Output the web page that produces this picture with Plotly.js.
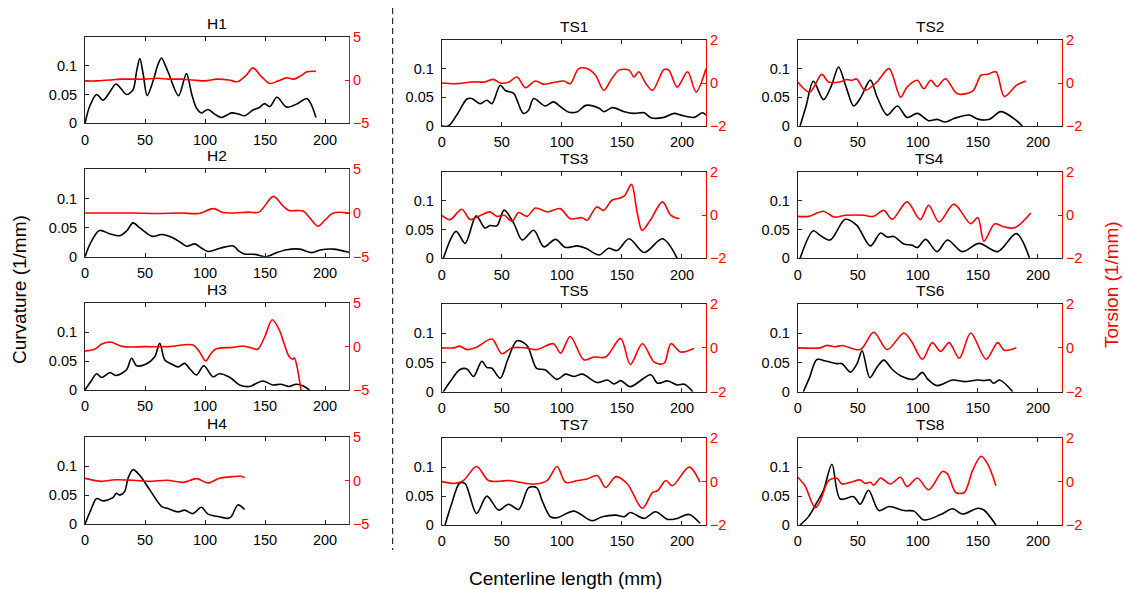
<!DOCTYPE html>
<html>
<head>
<meta charset="utf-8">
<script src="https://cdn.plot.ly/plotly-3.0.1.min.js"></script>
<style>html,body{margin:0;padding:0;background:#fff;}#chart{width:1124px;height:589px;}</style>
</head>
<body>
<div id="chart"></div>
<script>
// ---------- DATA ----------
const panelNames = ["H1","H2","H3","H4","TS1","TS2","TS3","TS4","TS5","TS6","TS7","TS8"];
const xTicks = [0, 50, 100, 150, 200];
const curvTicks = [0, 0.05, 0.1];
const curvTickText = ["0", "0.05", "0.1"];
const torsTicksH = [-5, 0, 5];
const torsTicksTS = [-2, 0, 2];

const h1_kx = [0,4,9.7,15,20,25.8,30,34.6,40,43,45.7,48.5,51.8,57,60.5,63.7,67,70,78,84.5,89,93,97,102.5,108,113.6,118,122,128,133,140,145,149.6,154,160,168,177,184.8,188,192.5];
const h1_k  = [0,0.03,0.05,0.040,0.052,0.068,0.060,0.050,0.058,0.09,0.112,0.085,0.048,0.075,0.1,0.113,0.1,0.085,0.048,0.086,0.05,0.026,0.018,0.024,0.016,0.010,0.014,0.018,0.016,0.013,0.023,0.027,0.034,0.029,0.045,0.028,0.034,0.043,0.035,0.010];
const h1_tx = [0,10,20,30,40,50,60,70,80,90,100,110,120,127,134,140,147,154,161,168,174,180,185,192.5];
const h1_t  = [-0.1,-0.1,0,0.1,0.1,0.1,0.2,0.1,0.1,0,-0.1,0.1,0,-0.2,0.5,1.4,0.4,-0.4,-0.1,0.25,0.1,0.5,0.95,1.0];

const h2_kx = [0,5,12,21,29,35,40,46,56,64,73.6,80,85,91.5,97,102.8,112.5,123.6,128,133,141.6,151,159.7,168,179,189,196,207,220];
const h2_k  = [0,0.025,0.045,0.039,0.036,0.045,0.058,0.049,0.035,0.038,0.032,0.024,0.018,0.022,0.015,0.009,0.0145,0.0185,0.01,0.0046,0.004,0,0.007,0.012,0.013,0.007,0.0116,0.013,0.0075];
const h2_tx = [0,20,40,60,80,95,107,115,123,136,145,157,165,170,181.7,187,194,200,207,220];
const h2_t  = [0,0,0,-0.05,0,-0.05,0.5,0.05,0,0.1,0.1,1.9,0.8,0.3,0.23,-0.5,-1.5,-0.8,0,0];

const h3_kx = [0,5,9.7,13.8,20.8,26,34.6,38.8,43,51,58,62.3,66.5,72,77.6,83,88,93,99,106.6,112,120.5,128.8,137,148,156.5,163,170,176,181.5,187];
const h3_k  = [0,0.015,0.028,0.0215,0.030,0.025,0.035,0.055,0.042,0.045,0.057,0.081,0.052,0.045,0.040,0.046,0.035,0.026,0.042,0.023,0.028,0.022,0.0087,0.006,0.0157,0.0087,0.01,0.006,0.01,0.0075,0];
const h3_tx = [0,8,14,20.8,32,50,70,90,95,100.5,105,109,123,131.6,140,144,150,156,162,166,170,173,174.5,177,180,183];
const h3_t  = [-0.5,-0.3,0.3,0.54,0,0,0,0.2,-0.5,-1.65,-0.8,-0.27,-0.08,0.08,-0.2,-0.3,1.2,3.1,1.9,0.3,-1.1,-1.46,-1.3,-2.5,-5,-7];

const h4_kx = [0,5,9.7,15,23.5,26,29,33,36,40,45.7,54,64,69,77.6,83,90,97,102.5,112,119,122,127.4,133];
const h4_k  = [0,0.025,0.044,0.040,0.046,0.053,0.05,0.056,0.08,0.094,0.084,0.059,0.030,0.027,0.021,0.024,0.018,0.029,0.017,0.0126,0.0098,0.013,0.033,0.025];
const h4_tx = [0,14,25,40,54,68,81.7,93,102.5,112,123,130,133];
const h4_t  = [0.27,-0.08,0.1,0.04,-0.08,0.05,-0.2,0.23,-0.27,0.27,0.47,0.5,0.35];

const ts1_kx = [0,5.6,12.5,21,25,32,37.6,41.8,48.7,53,60,62.7,68,72.4,76.6,86,93,99,106,113,120,131,135,142,152,160,168.5,174,185,193.6,199,210,217,220];
const ts1_k  = [0,0,0.019,0.047,0.048,0.039,0.045,0.039,0.071,0.062,0.057,0.045,0.022,0.028,0.048,0.035,0.042,0.0335,0.024,0.025,0.036,0.031,0.025,0.032,0.025,0.022,0.023,0.0145,0.015,0.022,0.019,0.015,0.023,0.019];
const ts1_tx = [0,12.5,25,36,43,48.7,56,62.7,69.6,78,85,93,101.7,107,114,121,128,135,140.7,147.6,156,160,164,170,175.5,185,189,196,204.7,211.7,220];
const ts1_t  = [0,-0.03,0.05,0.05,0.17,0,0.05,0.28,-0.22,0.09,-0.06,0.02,0.09,-0.03,0.67,0.67,0.36,-0.34,0.125,0.6,0.6,0.28,0.52,-0.03,-0.34,0.625,0.6,-0.19,0.52,-0.42,0.67];

const ts2_kx = [2,7,13,21.5,28,34,40,46.6,52,60.5,66,74.5,83,91,99.6,109,116,123,130,143,150,159.5,169,180,187];
const ts2_k  = [0,0.035,0.078,0.046,0.07,0.103,0.07,0.035,0.048,0.080,0.051,0.019,0.035,0.015,0.022,0.0093,0.0116,0.007,0.013,0.019,0.012,0.0116,0.025,0.013,0];
const ts2_tx = [0,10,20,25.7,35,41,45,49,56,66,76,85.6,91,99.6,105,110.7,116,123,133,145.6,152.6,158,165,172,182,190];
const ts2_t  = [0.05,-0.42,0.4,0.05,0.05,0.16,0.12,0.19,-0.34,0.05,0.67,-0.66,-0.19,0.125,-0.27,0.125,-0.16,0.2,-0.5,-0.375,0.36,0.4,0.52,-0.625,-0.11,0.09];

const ts3_kx = [1.4,12,19.5,28.7,36,40,46,52,60,67,76.6,85,94.7,103,113,120,131,139,146,156,168.5,183.8,196];
const ts3_k  = [0,0.047,0.026,0.074,0.053,0.057,0.057,0.084,0.061,0.032,0.049,0.020,0.033,0.019,0.0216,0.0175,0.0058,0.0175,0.0135,0.034,0.01,0.034,0];
const ts3_tx = [0,7,16.7,23.7,30.6,40,45.8,52,58.5,64,71,78,87.7,98.6,107,117,121,129,134.7,141.7,147,152,158,162.5,166.8,173.6,183.8,190.8,197.8];
const ts3_t  = [0,-0.2,0.28,-0.2,-0.05,0.16,-0.05,0,-0.28,0.125,-0.05,0.34,0.16,0.31,-0.16,-0.11,-0.23,0.39,0.23,0.7,0.78,0.9,1.44,0.2,-0.7,-0.23,0.625,0,-0.16];

const ts4_kx = [2,13,18.7,27,39.6,49,60.5,69,74.5,80,88.4,95,99.6,106.5,116,124.7,137,151,166.5,182,193];
const ts4_k  = [0,0.048,0.04,0.032,0.068,0.058,0.0216,0.044,0.037,0.038,0.025,0.023,0.0187,0.033,0.0117,0.032,0.0117,0.026,0.0117,0.043,0];
const ts4_tx = [0,9,21.5,30,40,55,63,71.7,78.7,91,102,109,117.7,130,144,150,155,164,170.7,180.5,194];
const ts4_t  = [-0.05,-0.05,0.19,-0.08,0,0,-0.05,0.23,-0.19,0.625,-0.2,0.47,-0.31,0.52,-0.39,-0.11,-1.2,-0.39,-0.52,-0.58,0.11];

const ts5_kx = [1.4,8,15,21,26.5,33.4,37.6,41.8,48.7,55,62.7,71,79,86,96,103,110,117,129.5,138,143.5,149,157,174,179.6,188,196,202,209];
const ts5_k  = [0,0.02,0.0376,0.039,0.026,0.052,0.0416,0.040,0.023,0.055,0.087,0.079,0.040,0.0376,0.021,0.030,0.026,0.030,0.0156,0.020,0.0133,0.019,0.0087,0.029,0.0145,0.0185,0.0116,0.0127,0];
const ts5_tx = [0,10,15,21,29,41.8,50,58.5,70,79,93,99,107,118.4,126.7,136.5,149,157,167,176.9,185,190.8,199,210];
const ts5_t  = [0,0,0.08,-0.08,0.03,0.4,-0.27,0,0,-0.08,0.19,-0.24,0.52,-0.55,-0.42,-0.42,0.43,-0.76,0.19,-0.65,-0.71,0.19,-0.19,-0.03];

const ts6_kx = [4.7,10,16,24,32.6,37,43.8,49.4,53.6,60,66,71.7,78.7,86,96.8,103.8,108,116,129,138.6,150,155,160,163,168,179];
const ts6_k  = [0,0.025,0.055,0.052,0.048,0.048,0.0335,0.048,0.070,0.024,0.042,0.054,0.038,0.027,0.0214,0.033,0.022,0.0104,0.020,0.0173,0.020,0.019,0.020,0.0145,0.020,0];
const ts6_tx = [0,18.7,24,31,37,52,63.3,74.5,88.4,95,103.8,112,119,126,134.5,144,156.8,166.5,172,182];
const ts6_t  = [0,0,0.11,0.05,0.11,-0.08,0.71,-0.08,0.68,0.27,-0.52,0.24,-0.16,0.24,-0.47,0.68,-0.52,0.24,-0.11,0];

const ts7_kx = [2.8,8,15,19.5,29,37.6,47.4,55.7,64,72.4,79,84,90.5,96,110,125,133.7,145,152,157,168.5,178,188,196,206,215];
const ts7_k  = [0,0.035,0.0726,0.0714,0.02,0.050,0.0257,0.036,0.027,0.0646,0.0646,0.04,0.0143,0.0126,0.024,0.0074,0.0143,0.017,0.0143,0.0217,0.0114,0.023,0.0097,0.0114,0.0183,0.003];
const ts7_tx = [0,11,18,29,39,48.7,55.7,65,76.6,87.7,96,103,113,121,129.5,136.5,145,154.6,167,175.5,179.7,186.6,192,206,215];
const ts7_t  = [0,-0.08,0.05,0.7,0.05,0.02,0.05,-0.03,-0.11,0.05,0.7,-0.03,0.05,0.125,0.28,-0.27,0.23,-0.11,-1.23,-0.5,-0.42,0.05,-0.19,0.67,-0.03];

const ts8_kx = [2,9,16,21.5,28.5,35.4,46.6,52,59,67.5,76,88.4,96.8,105,119,129,137,150,155,165];
const ts8_k  = [0,0.0145,0.039,0.06,0.105,0.045,0.049,0.036,0.06,0.025,0.032,0.025,0.024,0.0087,0.018,0.028,0.019,0.029,0.026,0];
const ts8_tx = [0,6,14.5,18.7,25.7,32.6,36.8,44,52,56,60.5,63.3,69,77,85.6,91,99.6,109,120.5,124.7,131.6,138.6,145.6,152.6,158,165];
const ts8_t  = [0.2,-0.19,-1.2,-0.9,0.05,0.16,-0.11,-0.03,0.08,-0.08,-0.03,-0.16,0.16,-0.11,0.2,-0.23,0.17,-0.375,0.47,0.36,-0.5,-0.5,0.52,1.17,0.83,-0.19];

const series = [
  [h1_kx,h1_k,h1_tx,h1_t],[h2_kx,h2_k,h2_tx,h2_t],[h3_kx,h3_k,h3_tx,h3_t],[h4_kx,h4_k,h4_tx,h4_t],
  [ts1_kx,ts1_k,ts1_tx,ts1_t],[ts2_kx,ts2_k,ts2_tx,ts2_t],[ts3_kx,ts3_k,ts3_tx,ts3_t],[ts4_kx,ts4_k,ts4_tx,ts4_t],
  [ts5_kx,ts5_k,ts5_tx,ts5_t],[ts6_kx,ts6_k,ts6_tx,ts6_t],[ts7_kx,ts7_k,ts7_tx,ts7_t],[ts8_kx,ts8_k,ts8_tx,ts8_t]
];

// ---------- LAYOUT GEOMETRY (pixels) ----------
const W = 1124, H = 589;
const colPx = [[85,349],[441.7,706],[797.7,1062]];
const rowPxH = [[36.7,123.3],[169.3,256.7],[303.3,390],[437.3,524]];
const rowPxTS = [[40,126],[172.3,258.3],[304,391.7],[438.3,525]];
const place = [[0,0],[0,1],[0,2],[0,3],[1,0],[2,0],[1,1],[2,1],[1,2],[2,2],[1,3],[2,3]];

const FONT = "Liberation Sans, Arial, Helvetica, sans-serif";
const AX = "#262626";
const RED = "#ff0000";

const traces = [];
const layout = {
  width: W, height: H,
  margin: {l:0,r:0,t:0,b:0},
  paper_bgcolor: "#fff", plot_bgcolor: "rgba(0,0,0,0)",
  showlegend: false,
  font: {family: FONT, size: 14, color: "#000"},
  annotations: [], shapes: []
};

panelNames.forEach((name, i) => {
  const [c, r] = place[i];
  const isH = name.startsWith("H");
  const rp = isH ? rowPxH[r] : rowPxTS[r];
  const xd = [colPx[c][0]/W, colPx[c][1]/W];
  const yd = [1 - rp[1]/H, 1 - rp[0]/H];
  const xn = i + 1, yl = 2*i + 1, yr = 2*i + 2;
  const xid = "x" + xn, ylid = "y" + yl, yrid = "y" + yr;

  layout["xaxis" + xn] = {
    domain: xd, anchor: ylid, range: [0, 220], tickvals: xTicks,
    ticks: "inside", ticklen: 4, tickcolor: AX, tickwidth: 1,
    showline: true, linecolor: AX, linewidth: 1, mirror: "ticks",
    showgrid: false, zeroline: false, fixedrange: true,
    ticklabelstandoff: 3,
    tickfont: {size: 14.5, color: "#000", family: FONT}
  };
  layout["yaxis" + yl] = {
    domain: yd, anchor: xid, range: [0, 0.15], tickvals: curvTicks, ticktext: curvTickText,
    ticks: "inside", ticklen: 4, tickcolor: AX, tickwidth: 1,
    showline: true, linecolor: AX, linewidth: 1,
    showgrid: false, zeroline: false, fixedrange: true,
    ticklabelstandoff: 4,
    tickfont: {size: 14.5, color: "#000", family: FONT}
  };
  const tt = isH ? torsTicksH : torsTicksTS;
  layout["yaxis" + yr] = {
    domain: yd, anchor: xid, overlaying: ylid, side: "right",
    range: isH ? [-5, 5] : [-2, 2], tickvals: tt,
    ticks: "inside", ticklen: 4, tickcolor: RED, tickwidth: 1,
    showline: true, linecolor: RED, linewidth: 1,
    showgrid: false, zeroline: false, fixedrange: true,
    tickfont: {size: 14.5, color: RED, family: FONT}
  };

  const s = series[i];
  traces.push({x: s[0], y: s[1], xaxis: xid, yaxis: ylid, type: "scatter", mode: "lines",
    line: {color: "#000", width: 1.6, shape: "spline", smoothing: 0.9}, hoverinfo: "skip"});
  traces.push({x: s[2], y: s[3], xaxis: xid, yaxis: yrid, type: "scatter", mode: "lines",
    line: {color: RED, width: 1.6, shape: "spline", smoothing: 0.9}, hoverinfo: "skip"});

  layout.annotations.push({
    text: name, xref: "paper", yref: "paper",
    x: (xd[0] + xd[1]) / 2, y: yd[1], xanchor: "center", yanchor: "bottom", yshift: 3,
    showarrow: false, font: {size: 15.5, color: "#000", family: FONT}
  });
});

layout.annotations.push({
  text: "Curvature (1/mm)", xref: "paper", yref: "paper", x: 19/W, y: 1 - 290/H,
  xanchor: "center", yanchor: "middle", textangle: -90, showarrow: false,
  font: {size: 19, color: "#000", family: FONT}
});
layout.annotations.push({
  text: "Torsion (1/mm)", xref: "paper", yref: "paper", x: 1111/W, y: 1 - 285/H,
  xanchor: "center", yanchor: "middle", textangle: -90, showarrow: false,
  font: {size: 19, color: RED, family: FONT}
});
layout.annotations.push({
  text: "Centerline length (mm)", xref: "paper", yref: "paper", x: 565/W, y: 1 - 578/H,
  xanchor: "center", yanchor: "middle", showarrow: false,
  font: {size: 19, color: "#000", family: FONT}
});

layout.shapes.push({
  type: "line", xref: "paper", yref: "paper",
  x0: 392.7/W, x1: 392.7/W, y0: 1 - 8/H, y1: 1 - 550/H,
  line: {color: "#000", width: 1, dash: "6px,4px"}
});

Plotly.newPlot("chart", traces, layout, {staticPlot: true, displayModeBar: false});
</script>
</body>
</html>
